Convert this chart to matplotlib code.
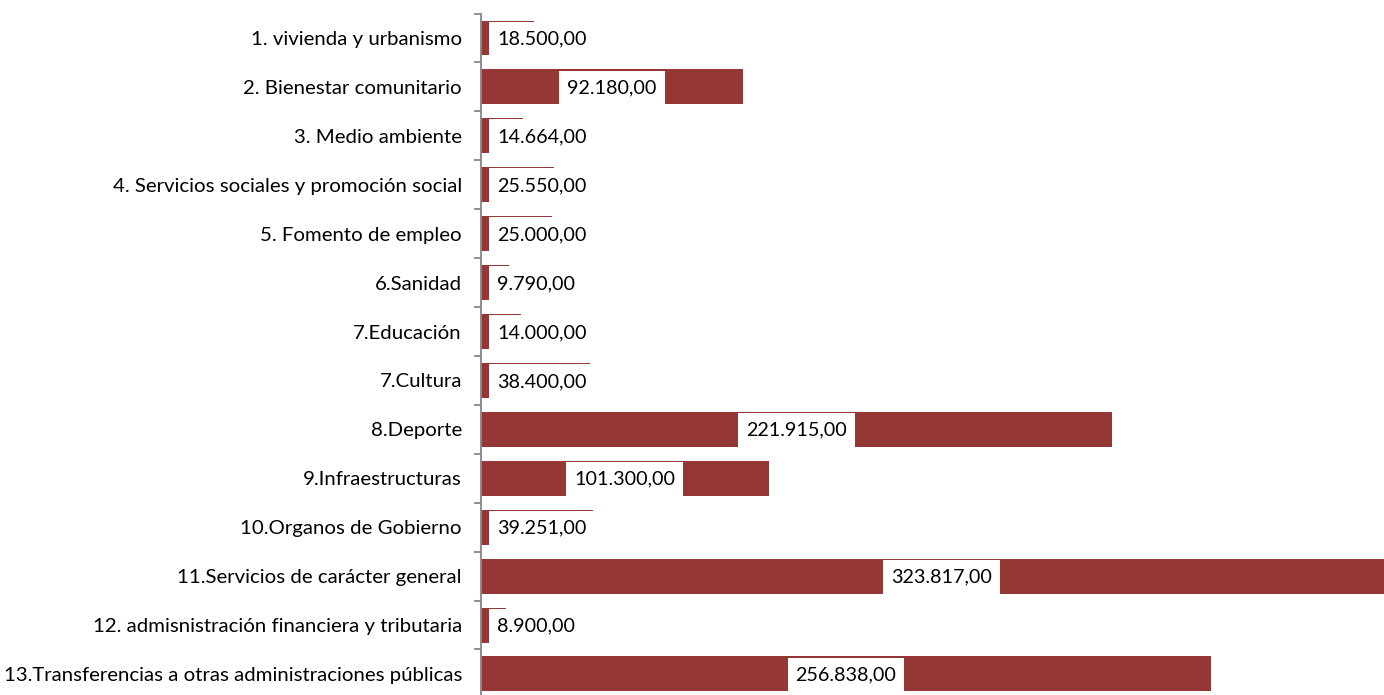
import matplotlib
matplotlib.use("Agg")
import matplotlib.pyplot as plt
from matplotlib.patches import Rectangle
import numpy as np

# datos del gráfico
categorias = [
    "1. vivienda y urbanismo",
    "2. Bienestar comunitario",
    "3. Medio ambiente",
    "4. Servicios sociales y promoción social",
    "5. Fomento de empleo",
    "6.Sanidad",
    "7.Educación",
    "7.Cultura",
    "8.Deporte",
    "9.Infraestructuras",
    "10.Organos de Gobierno",
    "11.Servicios de carácter general",
    "12. admisnistración financiera y tributaria",
    "13.Transferencias a otras administraciones públicas",
]
importes = [18500, 92180, 14664, 25550, 25000, 9790, 14000, 38400,
            221915, 101300, 39251, 323817, 8900, 256838]

color_barra = "#953735"
fuente = "Lato"


def formato_es(v):
    s = f"{v:,.2f}"
    return s.replace(",", "X").replace(".", ",").replace("X", ".")


W, H = 1384, 695
fig = plt.figure(figsize=(W / 100, H / 100), dpi=100)

# eje: origen en x=481 px, escala ~0.0028423 px por unidad
x0 = 481
escala = 0.0028423
xmax = (W - x0) / escala
fila = 48.92
y_top = 38 - fila / 2
y_bot = y_top + fila * len(categorias)
ax = fig.add_axes([x0 / W, 1 - y_bot / H, 1 - x0 / W, (y_bot - y_top) / H])

n = len(categorias)
pos = np.arange(n)
alto = 0.715
ax.barh(pos, importes, height=alto, color=color_barra, zorder=2)
ax.set_xlim(0, xmax)
ax.set_ylim(n - 0.5, -0.5)

# estilo tipo Excel
for lado in ["top", "right", "bottom"]:
    ax.spines[lado].set_visible(False)
ax.spines["left"].set_color("#868686")
ax.spines["left"].set_linewidth(1.3)
ax.set_xticks([])
ax.set_yticks(np.arange(-0.5, n, 1.0))
ax.set_yticklabels([])
ax.tick_params(axis="y", which="major", length=5, width=1.3, color="#868686")
ax.set_yticks(pos, minor=True)
ax.set_yticklabels(categorias, minor=True, fontsize=14.7, family=fuente)
ax.tick_params(axis="y", which="minor", length=0, pad=13.7)

# etiquetas de valor con caja blanca
textos = []
for i, v in enumerate(importes):
    ancho_px = v * escala
    if ancho_px / 2 < 70:
        t = ax.annotate(formato_es(v), xy=(0, i), xytext=(16, -1), textcoords="offset pixels",
                        ha="left", va="center", fontsize=14.2, family=fuente, zorder=4)
    else:
        t = ax.annotate(formato_es(v), xy=(v / 2, i), xytext=(0, -1), textcoords="offset pixels",
                        ha="center", va="center", fontsize=14.2, family=fuente, zorder=4)
    textos.append(t)

fig.canvas.draw()
inv = ax.transData.inverted()
for i, t in enumerate(textos):
    bb = t.get_window_extent()
    xa = inv.transform((bb.x0 - 8, 0))[0]
    xb = inv.transform((bb.x1 + 8, 0))[0]
    ax.add_patch(Rectangle((xa, i - alto / 2 + 0.022), xb - xa, alto - 0.022,
                           facecolor="white", edgecolor="none", zorder=3))

fig.savefig("out.png", dpi=100)
